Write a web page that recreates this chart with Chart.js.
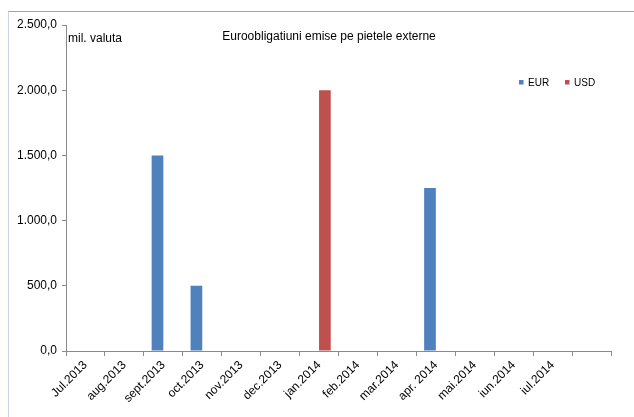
<!DOCTYPE html>
<html>
<head>
<meta charset="utf-8">
<script src="https://cdn.jsdelivr.net/npm/chart.js@4"></script>
<style>
html,body{margin:0;padding:0;background:#fff;}
#wrap{width:634px;height:417px;position:relative;}
</style>
</head>
<body>
<div id="wrap"><canvas id="c" width="634" height="417"></canvas></div>
<script>
const categories = ["Jul.2013","aug.2013","sept.2013","oct.2013","nov.2013","dec.2013","jan.2014","feb.2014","mar.2014","apr. 2014","mai.2014","iun.2014","iul.2014",""];
const eurValues = [null,null,1500,500,null,null,null,null,null,1250,null,null,null,null];
const usdValues = [null,null,null,null,null,null,2000,null,null,null,null,null,null,null];
const yTicks = [0,500,1000,1500,2000,2500];
const titleText = "Euroobligatiuni emise pe pietele externe";
const unitText = "mil. valuta";
const seriesNames = ["EUR","USD"];
const seriesColors = ["#4F81BD","#C0504D"];

function fmt(v){
  const s = Math.round(v).toString().replace(/\B(?=(\d{3})+(?!\d))/g,".");
  return s + ",0";
}

const FONT = "'Liberation Sans', Arial, sans-serif";

const decor = {
  id:'decor',
  beforeDraw(chart){
    const ctx = chart.ctx;
    ctx.save();
    ctx.fillStyle='#fff';
    ctx.fillRect(0,0,chart.width,chart.height);
    ctx.strokeStyle='#8FA4CB';
    ctx.lineWidth=1;
    ctx.beginPath();
    ctx.moveTo(8,11.5);ctx.lineTo(634,11.5);
    ctx.stroke();
    ctx.strokeStyle='#C9D5EA';
    ctx.beginPath();
    ctx.moveTo(8.5,11.5);ctx.lineTo(8.5,417);
    ctx.stroke();
    ctx.restore();
  },
  afterDraw(chart){
    const ctx = chart.ctx;
    ctx.save();
    ctx.fillStyle='#000';
    ctx.textBaseline='middle';
    ctx.font = "12px " + FONT;
    ctx.textAlign='center';
    ctx.fillText(titleText, 329, 37);
    ctx.textAlign='left';
    ctx.fillText(unitText, 68, 39);
    // legend
    ctx.font = "10px " + FONT;
    const lx = [519, 565];
    for(let i=0;i<2;i++){
      ctx.fillStyle = seriesColors[i];
      ctx.fillRect(lx[i], 80, 4.5, 4.5);
      ctx.fillStyle='#000';
      ctx.fillText(seriesNames[i], lx[i]+9, 83);
    }
    ctx.restore();
  }
};

new Chart(document.getElementById('c'),{
  type:'bar',
  data:{
    labels:categories,
    datasets:[
      {label:seriesNames[0],data:eurValues,backgroundColor:seriesColors[0],categoryPercentage:0.6,barPercentage:1.0},
      {label:seriesNames[1],data:usdValues,backgroundColor:seriesColors[1],categoryPercentage:0.6,barPercentage:1.0}
    ]
  },
  options:{
    responsive:false,
    animation:false,
    devicePixelRatio:1,
    layout:{padding:{left:0,right:23,top:25,bottom:0}},
    plugins:{legend:{display:false},title:{display:false},tooltip:{enabled:false}},
    scales:{
      x:{
        offset:true,
        grid:{display:true,drawOnChartArea:false,drawTicks:true,tickLength:5,color:'#8A8A8A',offset:true},
        border:{display:true,color:'#8A8A8A'},
        ticks:{color:'#000',font:{family:FONT,size:12},maxRotation:45,minRotation:45,autoSkip:false,padding:2},
        afterFit(s){s.height=66;}
      },
      y:{
        min:0,max:2500,
        afterBuildTicks(s){s.ticks = yTicks.map(v=>({value:v}));},
        grid:{display:true,drawOnChartArea:false,drawTicks:true,tickLength:4,color:'#8A8A8A'},
        border:{display:true,color:'#8A8A8A'},
        ticks:{color:'#000',font:{family:FONT,size:12},padding:5,callback:(v)=>fmt(v)},
        afterFit(s){s.width=66;}
      }
    }
  },
  plugins:[decor]
});
</script>
</body>
</html>
